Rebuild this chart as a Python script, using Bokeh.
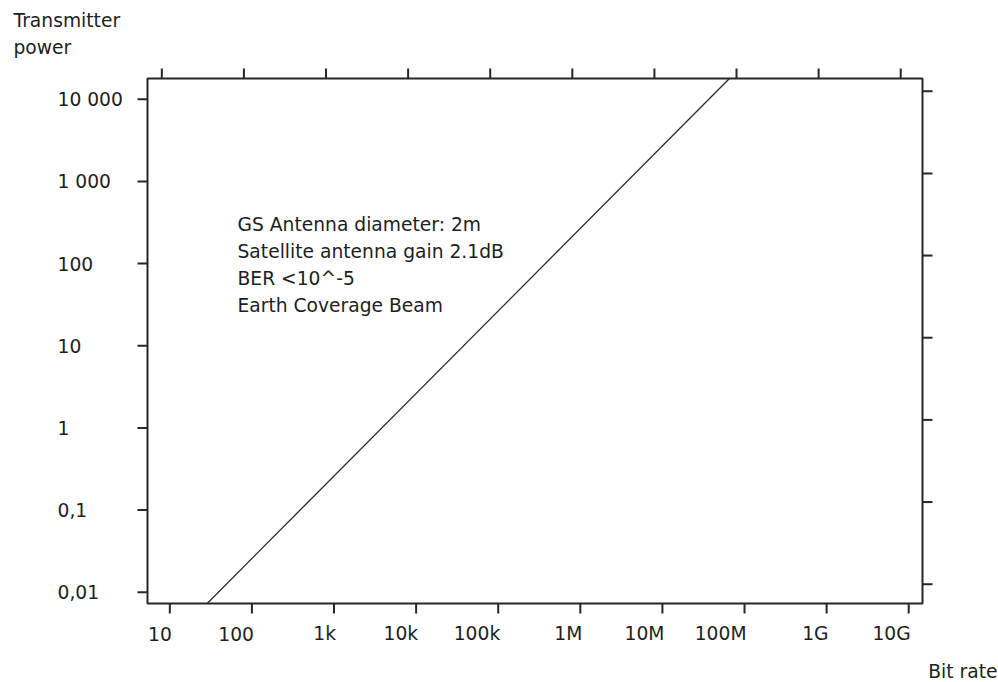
from bokeh.plotting import figure
from bokeh.models import Range1d, LabelSet, ColumnDataSource
from bokeh.core.properties import value
from bokeh.embed import file_html
from bokeh.resources import INLINE

# ---- data -------------------------------------------------------------
bit_rate = [28.5, 6.6e7]          # bit/s
tx_power = [0.0073, 1.8e4]        # transmitter power

x_ticks = [1e1, 1e2, 1e3, 1e4, 1e5, 1e6, 1e7, 1e8, 1e9, 1e10]
x_tick_labels = ["10", "100", "1k", "10k", "100k", "1M", "10M", "100M", "1G", "10G"]
y_ticks = [1e4, 1e3, 1e2, 1e1, 1, 0.1, 0.01]
y_tick_labels = ["10 000", "1 000", "100", "10", "1", "0,1", "0,01"]

notes = ["GS Antenna diameter: 2m", "Satellite antenna gain 2.1dB",
         "BER <10^-5", "Earth Coverage Beam"]

# ---- layout -----------------------------------------------------------
W, H = 998, 682
BX0, BX1, BY0, BY1 = 147, 922, 78, 603           # plot box in pixels
X_LOG = (0.728, 10.168)                           # log10 extent across the box
Y_LOG = (-2.137, 4.252)
TICK = 10                                         # tick length, px
OFFSET = 8                                        # top/right tick rows are offset by this, px

FONT = "DejaVu Sans"
FSIZE = "18.7px"
INK = "#1e1e1e"
LINE = "#262626"


def px_to_x(px):
    return 10 ** (X_LOG[0] + (px - BX0) / (BX1 - BX0) * (X_LOG[1] - X_LOG[0]))


def px_to_y(py):
    return 10 ** (Y_LOG[1] - (py - BY0) / (BY1 - BY0) * (Y_LOG[1] - Y_LOG[0]))


# the frame covers the whole canvas so that every text can sit anywhere
p = figure(width=W, height=H, x_axis_type="log", y_axis_type="log",
           x_range=Range1d(px_to_x(0), px_to_x(W)),
           y_range=Range1d(px_to_y(H), px_to_y(0)),
           x_axis_location=None, y_axis_location=None, title=None,
           output_backend="svg", toolbar_location=None,
           min_border=0, min_border_left=0, min_border_right=0,
           min_border_top=0, min_border_bottom=0)
p.grid.visible = False
p.outline_line_color = None
p.background_fill_color = "white"
p.border_fill_color = "white"

x_lo, x_hi = px_to_x(BX0), px_to_x(BX1)
y_lo, y_hi = px_to_y(BY1), px_to_y(BY0)

# ---- plot box ---------------------------------------------------------
p.quad(left=[x_lo], right=[x_hi], bottom=[y_lo], top=[y_hi],
       fill_color=None, line_color=LINE, line_width=2)

# ---- tick marks -------------------------------------------------------
dx = px_to_x(BX0 + OFFSET) / x_lo          # multiplicative shift for OFFSET px
dy = px_to_y(BY0) / px_to_y(BY0 + OFFSET)
n_x, n_y = len(x_ticks), len(y_ticks)

# bottom
p.segment(x0=x_ticks, x1=x_ticks, y0=[y_lo] * n_x, y1=[px_to_y(BY1 + TICK)] * n_x,
          line_color=LINE, line_width=2)
# top (offset to the left)
x_top = [v / dx for v in x_ticks]
p.segment(x0=x_top, x1=x_top, y0=[y_hi] * n_x, y1=[px_to_y(BY0 - TICK)] * n_x,
          line_color=LINE, line_width=2)
# left
p.segment(x0=[x_lo] * n_y, x1=[px_to_x(BX0 - TICK)] * n_y, y0=y_ticks, y1=y_ticks,
          line_color=LINE, line_width=2)
# right (offset upwards)
y_right = [v * dy for v in y_ticks]
p.segment(x0=[x_hi] * n_y, x1=[px_to_x(BX1 + TICK)] * n_y, y0=y_right, y1=y_right,
          line_color=LINE, line_width=2)

# ---- the power / bit-rate line ----------------------------------------
p.line(bit_rate, tx_power, line_color="#2a2a2a", line_width=1.3)


# ---- texts ------------------------------------------------------------
def add_texts(xs, ys, texts, align, baseline, x_offset=0):
    src = ColumnDataSource(dict(x=xs, y=ys, text=texts))
    p.add_layout(LabelSet(x="x", y="y", text="text", source=src, x_offset=x_offset,
                          text_align=align, text_baseline=baseline,
                          text_font=value(FONT), text_font_size=value(FSIZE),
                          text_color=INK))


add_texts(x_ticks, [px_to_y(633)] * n_x, x_tick_labels, "right", "middle", x_offset=2)
add_texts([px_to_x(57)] * n_y, y_ticks, y_tick_labels, "left", "middle")
add_texts([px_to_x(237)] * len(notes),
          [px_to_y(230.5 + 27 * i) for i in range(len(notes))],
          notes, "left", "alphabetic")
add_texts([px_to_x(13)] * 2, [px_to_y(26.5), px_to_y(53)],
          ["Transmitter", "power"], "left", "alphabetic")
add_texts([px_to_x(997)], [px_to_y(677.5)], ["Bit rate"], "right", "alphabetic")

open("out.html", "w").write(file_html(p, INLINE))
